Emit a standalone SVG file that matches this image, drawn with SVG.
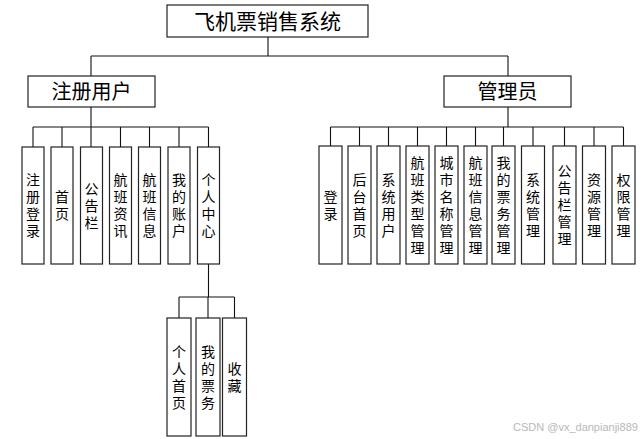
<svg xmlns="http://www.w3.org/2000/svg" width="644" height="439" viewBox="0 0 644 439">
<style>
.box{fill:#fff;stroke:#222;stroke-width:1.2}
.ln{stroke:#111;stroke-width:1.1;fill:none}
.t{font-family:"Noto Sans CJK SC","Noto Sans",sans-serif;fill:#000;text-anchor:middle}
.big{font-size:21px}
.mid{font-size:20px}
.v{font-size:14px;writing-mode:vertical-rl;text-orientation:upright;letter-spacing:3px}
.wm{font-family:"Liberation Sans","DejaVu Sans",sans-serif;font-size:11px;fill:#b8b8b8}
</style>
<rect width="644" height="439" fill="#fff"/>
<g id="connectors">
<path class="ln" d="M268 37V56M91 56H508M91 56V76M508 56V76"/>
<path class="ln" d="M91 107V127M33 127H208.5M33 127V147M62 127V147M91 127V147M120.5 127V147M149.5 127V147M179 127V147M208.5 127V147"/>
<path class="ln" d="M508 107V127M330.5 127H623.5M330.5 127V146M359.5 127V146M388.5 127V146M417.5 127V146M446.5 127V146M475.5 127V146M503.5 127V146M533 127V146M564.5 127V146M594 127V146M623.5 127V146"/>
<path class="ln" d="M208.5 264V297M179 297H234.5M179 297V318M208 297V318M234.5 297V318"/>
</g>
<g id="root"><rect class="box" x="167" y="5" width="201" height="32"/><text class="t big" x="267.5" y="29">飞机票销售系统</text></g>
<g id="user"><rect class="box" x="28" y="76" width="127" height="31"/><text class="t mid" x="91.5" y="99">注册用户</text></g>
<g id="admin"><rect class="box" x="444" y="76" width="127" height="31"/><text class="t mid" x="507.5" y="99">管理员</text></g>

<g id="u1"><rect class="box" x="22" y="147" width="22" height="117"/><text class="t v" x="33" y="207">注册登录</text></g>
<g id="u2"><rect class="box" x="51" y="147" width="22" height="117"/><text class="t v" x="62" y="207">首页</text></g>
<g id="u3"><rect class="box" x="80.5" y="147" width="22" height="117"/><text class="t v" x="91.5" y="207">公告栏</text></g>
<g id="u4"><rect class="box" x="109.5" y="147" width="22" height="117"/><text class="t v" x="120.5" y="207">航班资讯</text></g>
<g id="u5"><rect class="box" x="138.5" y="147" width="22" height="117"/><text class="t v" x="149.5" y="207">航班信息</text></g>
<g id="u6"><rect class="box" x="168" y="147" width="22" height="117"/><text class="t v" x="179" y="207">我的账户</text></g>
<g id="u7"><rect class="box" x="197.5" y="147" width="22" height="117"/><text class="t v" x="208.5" y="207">个人中心</text></g>

<g id="c1"><rect class="box" x="167" y="318" width="24" height="118"/><text class="t v" x="179" y="378.5">个人首页</text></g>
<g id="c2"><rect class="box" x="196" y="318" width="24" height="118"/><text class="t v" x="208" y="378.5">我的票务</text></g>
<g id="c3"><rect class="box" x="222.5" y="318" width="24" height="118"/><text class="t v" x="234.5" y="378.5">收藏</text></g>

<g id="a1"><rect class="box" x="319" y="146" width="23" height="118"/><text class="t v" x="330.5" y="206.5">登录</text></g>
<g id="a2"><rect class="box" x="348" y="146" width="23" height="118"/><text class="t v" x="359.5" y="206.5">后台首页</text></g>
<g id="a3"><rect class="box" x="377" y="146" width="23" height="118"/><text class="t v" x="388.5" y="206.5">系统用户</text></g>
<g id="a4"><rect class="box" x="406" y="146" width="23" height="118"/><text class="t v" x="417.5" y="206.5">航班类型管理</text></g>
<g id="a5"><rect class="box" x="435" y="146" width="23" height="118"/><text class="t v" x="446.5" y="206.5">城市名称管理</text></g>
<g id="a6"><rect class="box" x="464" y="146" width="23" height="118"/><text class="t v" x="475.5" y="206.5">航班信息管理</text></g>
<g id="a7"><rect class="box" x="492" y="146" width="23" height="118"/><text class="t v" x="503.5" y="206.5">我的票务管理</text></g>
<g id="a8"><rect class="box" x="521.5" y="146" width="23" height="118"/><text class="t v" x="533" y="206.5">系统管理</text></g>
<g id="a9"><rect class="box" x="553" y="146" width="23" height="118"/><text class="t v" x="564.5" y="206.5">公告栏管理</text></g>
<g id="a10"><rect class="box" x="582.5" y="146" width="23" height="118"/><text class="t v" x="594" y="206.5">资源管理</text></g>
<g id="a11"><rect class="box" x="612" y="146" width="23" height="118"/><text class="t v" x="623.5" y="206.5">权限管理</text></g>

<text class="wm" x="513" y="431">CSDN @vx_danpianji889</text>
</svg>
